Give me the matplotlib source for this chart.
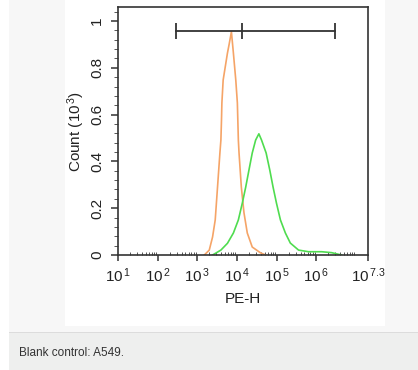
import matplotlib
matplotlib.use("Agg")
import matplotlib.pyplot as plt
from matplotlib.patches import Rectangle
from matplotlib.ticker import FixedLocator, LogLocator, MultipleLocator, NullFormatter

plt.rcParams['font.family'] = ['Liberation Sans', 'DejaVu Sans']
plt.rcParams['mathtext.fontset'] = 'custom'
plt.rcParams['mathtext.rm'] = 'Liberation Sans'
plt.rcParams['mathtext.it'] = 'Liberation Sans'

# blank control (orange) - PE-H value as log10, count in 10^3
orange_log = [3.175, 3.30, 3.383, 3.45, 3.508, 3.568, 3.593, 3.608, 3.618, 3.65, 3.758, 3.80,
              3.858, 3.908, 3.968, 4.008, 4.033, 4.05, 4.108, 4.175, 4.258, 4.383, 4.593, 4.718]
orange_cnt = [0.0, 0.021, 0.077, 0.15, 0.29, 0.436, 0.491, 0.577, 0.65, 0.748, 0.863, 0.90,
              0.954, 0.863, 0.748, 0.65, 0.491, 0.436, 0.29, 0.18, 0.094, 0.034, 0.009, 0.0]

# stained sample (green)
green_log = [3.383, 3.593, 3.758, 3.908, 4.033, 4.133, 4.218, 4.30, 4.383, 4.468, 4.55,
             4.618, 4.733, 4.825, 4.908, 4.993, 5.093, 5.218, 5.343, 5.55, 5.80, 6.133, 6.383, 6.633]
green_cnt = [0.0, 0.021, 0.05, 0.094, 0.15, 0.222, 0.29, 0.363, 0.436, 0.491, 0.518,
             0.491, 0.436, 0.363, 0.29, 0.222, 0.15, 0.094, 0.051, 0.021, 0.014, 0.014, 0.01, 0.0]

# gate marker
gate_log = [2.45, 4.125, 6.475]
gate_y = 0.957

xtick_exp = [1, 2, 3, 4, 5, 6, 7.3]
yticks = [0, 0.2, 0.4, 0.6, 0.8, 1]
ytick_labels = ["0", "0.2", "0.4", "0.6", "0.8", "1"]

W, H = 418, 370
fig = plt.figure(figsize=(W / 100, H / 100), dpi=100)
fig.patch.set_facecolor("white")

# page background: grey panel, white image, caption strip
def px_rect(x0, y0, x1, y1, color, z):
    fig.add_artist(Rectangle((x0 / W, 1 - y1 / H), (x1 - x0) / W, (y1 - y0) / H,
                             transform=fig.transFigure, facecolor=color, edgecolor="none", zorder=z))

px_rect(9, 0, W, 332, "#f7f7f7", -10)
px_rect(65, 0, 385, 326, "white", -9)
px_rect(9, 332, W, 333, "#dcdcdc", -9)
px_rect(9, 333, W, H, "#eeefee", -10)
fig.text(19 / W, 1 - 353 / H, "Blank control: A549.", fontsize=8.5, color="#333333",
         va="center", ha="left")

ax = fig.add_axes([118 / W, 1 - 255 / H, 250 / W, 248 / H])
ax.set_facecolor("white")

ax.plot([10 ** v for v in orange_log], orange_cnt, color="#f5a467", lw=1.2)
ax.plot([10 ** v for v in green_log], green_cnt, color="#4fdc4f", lw=1.2)
ax.plot([10 ** v for v in gate_log], [gate_y] * len(gate_log), color="#333333", lw=1.3,
        marker="|", ms=11, mew=1.3)

ax.set_xscale("log")
ax.set_xlim(10, 10 ** 7.3)
ax.set_ylim(0, 1.06)

ax.xaxis.set_major_locator(FixedLocator([10 ** e for e in xtick_exp]))
ax.set_xticklabels([r"$10^{\,%g}$" % e for e in xtick_exp])
ax.xaxis.set_minor_locator(LogLocator(base=10, subs=range(2, 10), numticks=20))
ax.xaxis.set_minor_formatter(NullFormatter())

ax.set_yticks(yticks)
ax.set_yticklabels(ytick_labels, rotation=90, va="center")
ax.yaxis.set_minor_locator(MultipleLocator(0.04))

ax.tick_params(axis="x", which="major", direction="out", length=4, width=1.1, pad=4,
               labelsize=11, colors="#333333", labelcolor="#222222")
ax.tick_params(axis="x", which="minor", direction="in", length=2.5, width=0.7, colors="#555555")
ax.tick_params(axis="y", which="major", direction="out", length=5, width=1.1, pad=5,
               labelsize=11, colors="#333333", labelcolor="#222222")
ax.tick_params(axis="y", which="minor", direction="out", length=3, width=0.7, colors="#555555")

for s in ax.spines.values():
    s.set_color("#333333")
    s.set_linewidth(1.2)

ax.set_xlabel("PE-H", fontsize=11, color="#222222", labelpad=5)
ax.set_ylabel(r"Count $(10^{\,3})$", fontsize=11, color="#222222", labelpad=2)

fig.savefig("out.png", dpi=100)
